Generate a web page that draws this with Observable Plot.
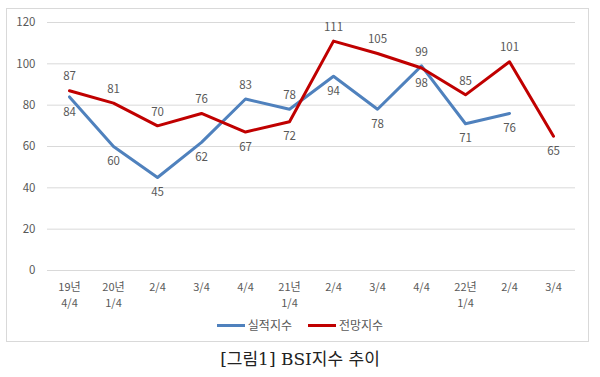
<!DOCTYPE html>
<html><head><meta charset="utf-8">
<script src="https://cdn.jsdelivr.net/npm/d3@7"></script>
<script src="https://cdn.jsdelivr.net/npm/@observablehq/plot@0.6"></script>
<style>
body{margin:0;background:#fff;width:600px;height:377px;position:relative;overflow:hidden;font-family:"Noto Sans CJK KR",sans-serif;}
#frame{position:absolute;left:6px;top:8px;width:583px;height:334px;border:1px solid #d9d9d9;box-sizing:border-box;}
#chart{position:absolute;left:0;top:0;}
#legend{position:absolute;left:0;width:600px;top:316px;text-align:center;font-size:12px;color:#595959;}
#legend span.item{display:inline-block;margin:0 8px;}
#legend span.sw{display:inline-block;width:28px;height:3px;vertical-align:middle;margin-right:3px;position:relative;top:-1px;}
#caption{position:absolute;left:0;width:600px;top:345px;text-align:center;font-size:17px;color:#222;font-family:"DejaVu Serif","Liberation Serif","Noto Sans CJK KR",serif;}
</style></head>
<body>
<div id="frame"></div>
<div id="chart"></div>
<div id="legend"></div>
<div id="caption">[그림1] BSI지수 추이</div>
<script>
const quarters = ["19년\n4/4","20년\n1/4","2/4","3/4","4/4","21년\n1/4","2/4","3/4","4/4","22년\n1/4","2/4","3/4"];
const actual   = [84,60,45,62,83,78,94,78,99,71,76,null];
const outlook  = [87,81,70,76,67,72,111,105,98,85,101,65];
const seriesNames = ["실적지수","전망지수"];
const colors = ["#4f81bd","#c00000"];
const yTicks = [0,20,40,60,80,100,120];

const idx = quarters.map((_, i) => i);
const actRows = idx.filter(i => actual[i] != null).map(i => ({i, v: actual[i], above: outlook[i] < actual[i]}));
const outRows = idx.map(i => ({i, v: outlook[i], above: actual[i] != null && outlook[i] >= actual[i]}));

const font = "Noto Sans CJK KR, sans-serif";
const plot = Plot.plot({
  width: 600, height: 310,
  marginLeft: 47, marginRight: 25, marginTop: 22, marginBottom: 40,
  style: {fontFamily: font, fontSize: "11px", color: "#595959", background: "transparent"},
  x: {type: "point", domain: idx, padding: 0.5, label: null},
  y: {domain: [0, 120], label: null},
  marks: [
    Plot.gridY(yTicks, {stroke: "#d9d9d9", strokeOpacity: 1, strokeWidth: 1}),
    Plot.axisY(yTicks, {tickSize: 0, tickPadding: 12, fill: "#595959", fontSize: 11.5}),
    Plot.axisX(idx, {tickSize: 0, tickPadding: 10, tickFormat: i => quarters[i], fill: "#595959", fontSize: 11, lineHeight: 1.4, textAnchor: "middle"}),
    Plot.line(actRows, {x: "i", y: "v", stroke: colors[0], strokeWidth: 3}),
    Plot.line(outRows, {x: "i", y: "v", stroke: colors[1], strokeWidth: 3}),
    Plot.text(actRows, {x: "i", y: "v", text: d => String(d.v), dy: d => 0, fill: "#595959", fontSize: 11.5,
      filter: d => d.above, dy: -14}),
    Plot.text(actRows, {x: "i", y: "v", text: d => String(d.v), fill: "#595959", fontSize: 11.5,
      filter: d => !d.above, dy: 15}),
    Plot.text(outRows, {x: "i", y: "v", text: d => String(d.v), fill: "#595959", fontSize: 11.5,
      filter: d => d.above, dy: -14}),
    Plot.text(outRows, {x: "i", y: "v", text: d => String(d.v), fill: "#595959", fontSize: 11.5,
      filter: d => !d.above, dy: 15})
  ]
});
document.getElementById("chart").appendChild(plot);

const leg = document.getElementById("legend");
seriesNames.forEach((n, k) => {
  const s = document.createElement("span"); s.className = "item";
  s.innerHTML = `<span class="sw" style="background:${colors[k]}"></span>${n}`;
  leg.appendChild(s);
});
</script>
</body></html>
